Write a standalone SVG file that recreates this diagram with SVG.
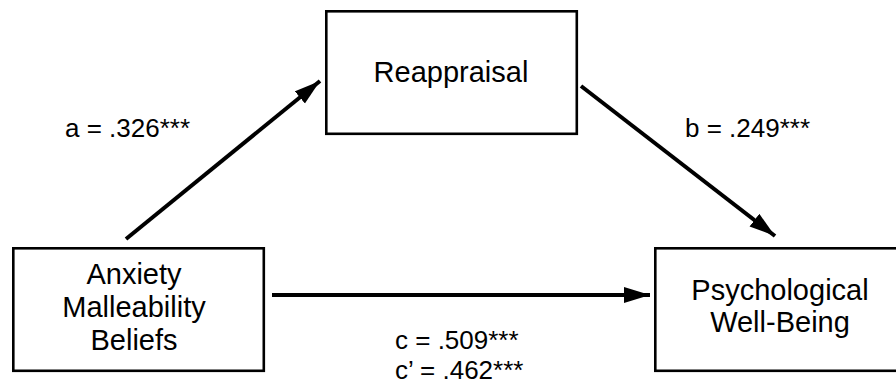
<svg xmlns="http://www.w3.org/2000/svg" width="896" height="385" viewBox="0 0 896 385">
<style>
.box{fill:#fff;stroke:#000;stroke-width:2.6}
.t{font-family:"Liberation Sans",Arial,sans-serif;font-size:29px;fill:#000}
.l{font-family:"Liberation Sans",Arial,sans-serif;font-size:26px;fill:#000}
.c{text-anchor:middle}
.edge{stroke:#000;stroke-width:4;fill:none}
</style>
<defs>
<marker id="ah" markerUnits="userSpaceOnUse" markerWidth="28" markerHeight="18" refX="26" refY="8" orient="auto">
<path d="M0,0 L26,8 L0,16 Z" fill="#000"/>
</marker>
</defs>
<rect width="896" height="385" fill="#fff"/>
<g id="connectors">
<line class="edge" x1="126" y1="239" x2="320" y2="81" marker-end="url(#ah)"/>
<line class="edge" x1="581" y1="86" x2="775" y2="236" marker-end="url(#ah)"/>
<line class="edge" x1="272" y1="295" x2="650" y2="295" marker-end="url(#ah)"/>
</g>
<g id="reappraisal">
<rect class="box" x="326.3" y="11.3" width="250.5" height="122.5"/>
<text class="t c" x="451" y="82">Reappraisal</text>
</g>
<g id="anxiety">
<rect class="box" x="13.3" y="248.3" width="250.5" height="122.5"/>
<text class="t c" x="134" y="284">Anxiety</text>
<text class="t c" x="134" y="317">Malleability</text>
<text class="t c" x="134" y="350">Beliefs</text>
</g>
<g id="wellbeing">
<rect class="box" x="655.3" y="248.3" width="260" height="122.5"/>
<text class="t c" x="780" y="300">Psychological</text>
<text class="t c" x="780" y="332">Well-Being</text>
</g>
<g id="labels">
<text class="l" x="65" y="137">a = .326***</text>
<text class="l" x="685" y="137">b = .249***</text>
<text class="l" x="395" y="349">c = .509***</text>
<text class="l" x="395" y="379">c’ = .462***</text>
</g>
</svg>
